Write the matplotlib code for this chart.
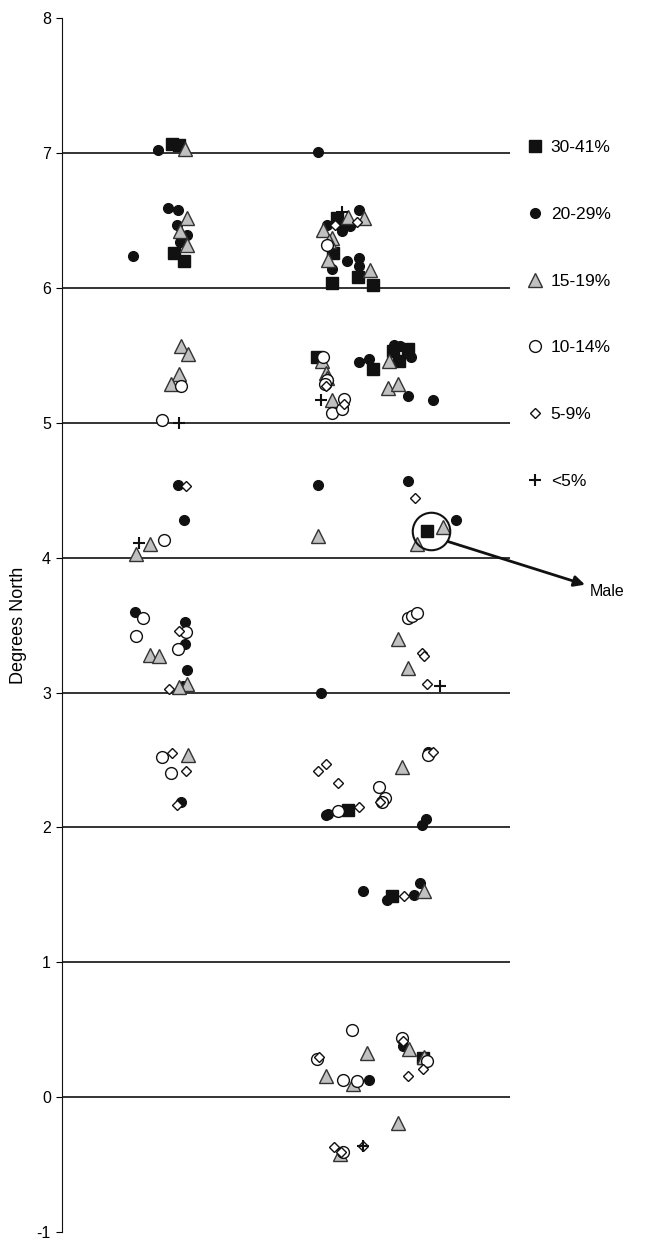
import matplotlib
matplotlib.use("Agg")
import matplotlib.pyplot as plt

plt.rcParams['font.family'] = ['Liberation Sans', 'DejaVu Sans']
plt.rcParams['axes.unicode_minus'] = False

# horizontal jitter position (arbitrary units) and latitude (degrees north)
sq_x = [11.0, 11.7, 11.2, 12.2, 27.5, 27.1, 27.0, 29.6, 31.1, 25.5, 31.1, 33.1,
        33.7, 34.6, 36.5, 28.6, 33.0, 36.1]
sq_y = [7.07, 7.06, 6.26, 6.20, 6.52, 6.26, 6.04, 6.08, 6.02, 5.49, 5.40, 5.53,
        5.46, 5.55, 4.20, 2.13, 1.49, 0.29]

dot_x = [9.6, 10.6, 11.6, 11.5, 12.5, 7.1, 11.8, 11.6, 12.2, 7.3, 12.3, 12.3,
         12.5, 12.1, 11.9,
         25.6, 29.7, 28.8, 27.8, 26.5, 28.0, 27.0, 28.5, 29.7, 29.7, 28.1, 29.7,
         30.7, 33.2, 33.8, 34.9, 34.6, 37.1, 25.6, 34.6, 39.4, 25.9, 36.6, 26.6,
         26.4, 36.0, 36.4, 30.1, 32.5, 35.2, 35.8, 30.7, 34.1]
dot_y = [7.02, 6.59, 6.58, 6.47, 6.39, 6.24, 6.34, 4.54, 4.28, 3.60, 3.52, 3.36,
         3.17, 3.05, 2.19,
         7.01, 6.58, 6.46, 6.46, 6.47, 6.42, 6.14, 6.20, 6.22, 6.16, 5.11, 5.45,
         5.47, 5.58, 5.57, 5.49, 5.20, 5.17, 4.54, 4.57, 4.28, 3.00, 2.56, 2.10,
         2.09, 2.02, 2.06, 1.53, 1.46, 1.50, 1.59, 0.13, 0.38]

tri_x = [12.3, 12.5, 11.8, 12.5, 11.9, 12.6, 11.7, 10.9, 8.8, 7.4, 8.8, 9.7,
         12.5, 11.7, 12.6,
         30.2, 28.6, 26.1, 27.0, 26.7, 26.6, 30.8, 26.0, 26.4, 26.5, 27.0, 32.7,
         32.6, 33.6, 25.6, 38.1, 35.5, 33.6, 34.6, 34.0, 36.2, 26.4, 30.5, 29.1,
         34.7, 36.2, 33.6, 27.8]
tri_y = [7.03, 6.52, 6.42, 6.32, 5.57, 5.51, 5.36, 5.29, 4.10, 4.03, 3.28, 3.27,
         3.06, 3.04, 2.54,
         6.52, 6.53, 6.43, 6.37, 6.35, 6.21, 6.13, 5.46, 5.37, 5.33, 5.17, 5.46,
         5.26, 5.29, 4.16, 4.23, 4.10, 3.40, 3.18, 2.45, 1.53, 0.16, 0.33, 0.10,
         0.36, 0.30, -0.19, -0.42]

ring_x = [11.9, 10.0, 10.2, 8.1, 7.4, 12.4, 11.6, 10.0, 10.9,
          26.5, 26.1, 26.5, 26.3, 28.2, 27.0, 28.0, 34.6, 35.0, 35.5, 31.7, 32.3,
          32.0, 36.6, 27.6, 29.0, 25.5, 28.1, 29.5, 34.0, 36.5, 28.1]
ring_y = [5.27, 5.02, 4.13, 3.55, 3.42, 3.45, 3.32, 2.52, 2.40,
          6.32, 5.49, 5.32, 5.29, 5.18, 5.07, 5.10, 3.55, 3.57, 3.59, 2.30, 2.22,
          2.19, 2.54, 2.12, 0.50, 0.28, 0.13, 0.12, 0.44, 0.27, -0.41]

dia_x = [12.4, 11.7, 10.7, 11.0, 12.4, 11.5,
         29.5, 27.3, 26.4, 28.2, 35.3, 36.0, 36.2, 36.5, 25.6, 26.4, 27.6, 31.8,
         37.1, 29.7, 34.2, 25.7, 34.1, 36.1, 34.6, 27.2, 27.9, 30.1]
dia_y = [4.53, 3.46, 3.03, 2.55, 2.42, 2.17,
         6.49, 6.47, 5.27, 5.14, 4.44, 3.29, 3.27, 3.06, 2.42, 2.47, 2.33, 2.19,
         2.56, 2.15, 1.49, 0.30, 0.42, 0.21, 0.16, -0.37, -0.41, -0.36]

plus_x = [11.7, 7.7, 25.9, 37.8, 30.1, 28.0]
plus_y = [5.00, 4.11, 5.17, 3.05, -0.36, 6.56]

labels = ['30-41%', '20-29%', '15-19%', '10-14%', '5-9%', '<5%']

fig = plt.figure(figsize=(6.45, 12.41), dpi=100)
ax = fig.add_axes([0.0961, 0.00725, 0.6946, 0.978])

h1, = ax.plot(sq_x, sq_y, 's', ms=8, mfc='#111111', mec='#111111', ls='none')
h2, = ax.plot(dot_x, dot_y, 'o', ms=7, mfc='#111111', mec='#111111', ls='none')
h3, = ax.plot(tri_x, tri_y, '^', ms=10, mfc='#c0c0c0', mec='#333333', mew=1, ls='none')
h4, = ax.plot(ring_x, ring_y, 'o', ms=8.5, mfc='white', mec='#111111', mew=1, ls='none')
h5, = ax.plot(dia_x, dia_y, 'D', ms=5, mfc='white', mec='#111111', mew=1, ls='none')
h6, = ax.plot(plus_x, plus_y, '+', ms=9, mec='#111111', mew=1.5, ls='none')

# highlight of the male sample
ax.plot([36.9], [4.20], 'o', ms=27, mfc='none', mec='#111111', mew=1.5, clip_on=False)
ax.annotate('', xy=(52.3, 3.80), xytext=(38.6, 4.12), annotation_clip=False,
            arrowprops=dict(arrowstyle='-|>', lw=2, color='#111111', mutation_scale=16,
                            shrinkA=0, shrinkB=0))
ax.text(52.8, 3.75, 'Male', fontsize=11.5, va='center', ha='left', clip_on=False)

ax.set_xlim(0, 44.8)
ax.set_ylim(-1, 8)
ax.set_yticks(range(-1, 9))
ax.set_xticks([])
for y in range(0, 8):
    ax.axhline(y, color='#111111', lw=1.2, zorder=0)

for s in ['top', 'right', 'bottom']:
    ax.spines[s].set_visible(False)
ax.spines['left'].set_color('#111111')
ax.tick_params(axis='y', direction='out', length=4, labelsize=11.5, pad=4)
ax.set_ylabel('Degrees North', fontsize=13)
ax.yaxis.set_label_coords(-0.078, 0.5)

fig.legend([h1, h2, h3, h4, h5, h6], labels, loc='center left',
           bbox_to_anchor=(0.816, 0.7466), frameon=False, fontsize=12.5,
           handlelength=1.0, handletextpad=0.4, labelspacing=2.98, borderpad=0,
           borderaxespad=0)

fig.savefig('out.png', dpi=100)
